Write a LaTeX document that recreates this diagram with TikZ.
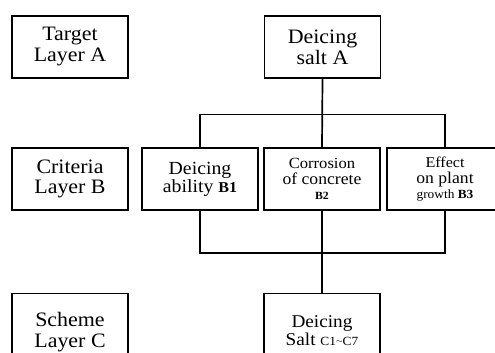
\documentclass[tikz,border=0pt]{standalone}
\usepackage{fontspec}
\setmainfont[FakeStretch=1.07]{Liberation Serif}
\usetikzlibrary{positioning}
\tikzset{
  mybox/.style={
    draw=black,
    shape=rectangle,
    line width=1.3pt,
    align=center,
    inner sep=0pt,
    minimum width=116pt,
    minimum height=62pt,
  },
  myline/.style={
    draw=black,
    line width=1.7pt,
  }
}

\begin{document}
\begin{tikzpicture}[x=1pt,y=-1pt]
    \clip (0,0) rectangle (495,353);
    \fill[white] (0,0) rectangle (495,353);

    \node[mybox, font=\fontsize{20.5}{21}\selectfont] (tarA) at (70,47)    {Target\\Layer A};
    \node[mybox, font=\fontsize{20.5}{21}\selectfont] (salA) at (322.5,47) {Deicing\\salt A};

    \node[mybox, font=\fontsize{20.5}{20}\selectfont] (criB) at (70,179)  {Criteria\\Layer B};
    \node[mybox, font=\fontsize{18.5}{18}\selectfont] (abiB) at (200,179) {Deicing\\ability {\fontsize{15}{15}\selectfont\bfseries B1}};
    \node[mybox, font=\fontsize{15.5}{16}\selectfont] (corB) at (322,179) {Corrosion\\{\fontsize{16.5}{16}\selectfont of concrete}\\[-1pt]{\fontsize{11}{12}\selectfont\bfseries B2}};
    \node[mybox, font=\fontsize{15}{16}\selectfont] (effB) at (445,179) {Effect\\{\fontsize{16.5}{16}\selectfont on plant}\\[-1pt]{\fontsize{12.5}{12}\selectfont growth \bfseries B3}};

    \node[mybox, font=\fontsize{20.5}{21}\selectfont, anchor=north] (schC) at (70,293)  {\rule{0pt}{29pt}Scheme\\Layer C};
    \node[mybox, font=\fontsize{18}{16}\selectfont, anchor=north] (salC) at (322,293) {\rule{0pt}{24pt}Deicing\\Salt {\fontsize{12.5}{14}\selectfont C1\raisebox{2pt}{\fontsize{8}{8}\selectfont$\sim$}C7}};

    % upper links
    \draw[myline] (salA.south) -- (corB.north);
    \draw[myline] (abiB.north) -- ++(0,-33) -| (effB.north);

    % lower links
    \draw[myline] (corB.south) -- (salC.north);
    \draw[myline] (abiB.south) -- ++(0,42) -| (effB.south);
\end{tikzpicture}
\end{document}
